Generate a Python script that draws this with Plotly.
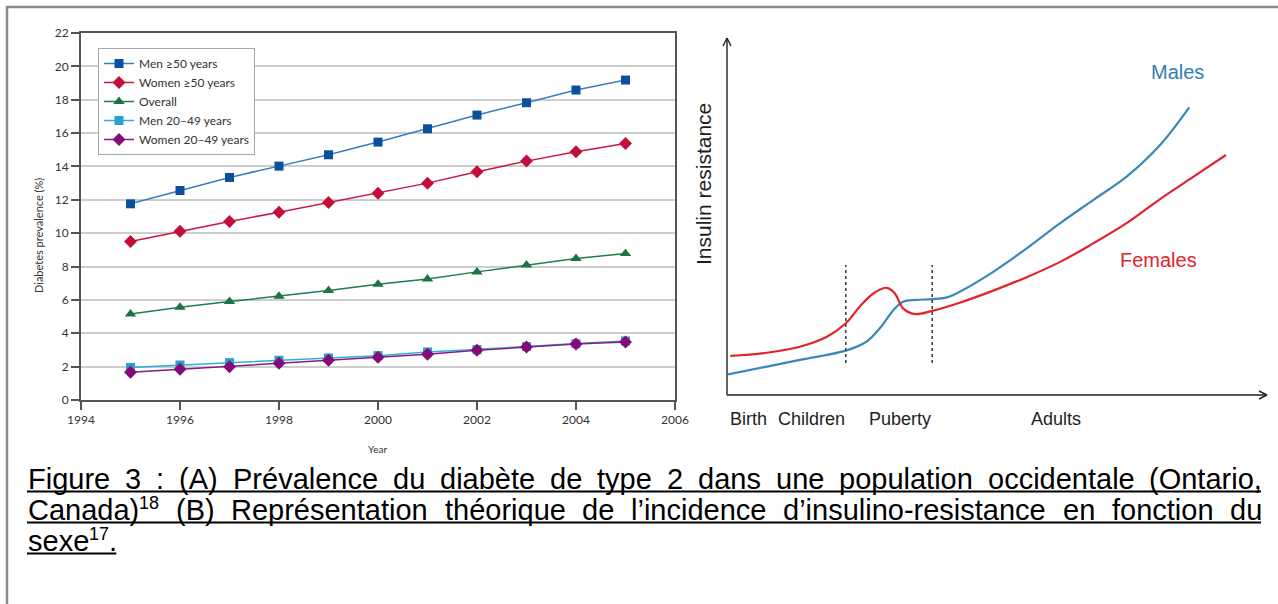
import plotly.graph_objects as go

W, H = 1278, 604


def px(x):
    return x / W


def py(y):
    return 1 - y / H


# ---------------- Panel A data ----------------
years = list(range(1995, 2006))
men_50 = [11.76, 12.56, 13.34, 14.02, 14.70, 15.46, 16.26, 17.08, 17.82, 18.58, 19.18]
women_50 = [9.50, 10.12, 10.70, 11.26, 11.84, 12.40, 13.00, 13.68, 14.32, 14.88, 15.38]
overall = [5.16, 5.56, 5.90, 6.22, 6.56, 6.94, 7.26, 7.68, 8.10, 8.48, 8.78]
men_20_49 = [1.95, 2.10, 2.24, 2.38, 2.52, 2.66, 2.88, 3.02, 3.20, 3.38, 3.54]
women_20_49 = [1.66, 1.84, 2.00, 2.20, 2.38, 2.56, 2.74, 2.98, 3.18, 3.36, 3.48]
x_ticks = [1994, 1996, 1998, 2000, 2002, 2004, 2006]
y_ticks = [0, 2, 4, 6, 8, 10, 12, 14, 16, 18, 20, 22]

# ---------------- Panel B data (schematic, arbitrary units 0-100) ----------------
male_x = [0.2, 7.4, 13.5, 22.0, 25.8, 28.3, 30.8, 32.6, 35.1, 38.0, 40.7, 43.1, 49.3, 55.5, 61.7, 67.8, 74.0, 80.2, 85.6]
male_y = [5.8, 8.0, 9.9, 12.5, 15.0, 18.8, 23.9, 26.3, 26.8, 27.0, 27.5, 29.1, 34.7, 41.3, 48.4, 54.9, 61.5, 70.4, 81.0]
female_x = [0.6, 7.4, 13.5, 18.5, 22.0, 24.6, 27.1, 29.6, 31.1, 32.6, 34.8, 38.0, 43.1, 49.3, 55.5, 61.7, 67.8, 74.0, 80.2, 86.4, 92.4]
female_y = [11.0, 11.9, 13.6, 16.4, 20.2, 24.9, 28.6, 30.2, 28.6, 24.4, 22.8, 23.7, 26.0, 29.4, 33.2, 37.5, 42.7, 48.4, 55.2, 61.5, 67.6]
stage_bounds = [22.0, 38.0]
stage_labels = ["Birth", "Children", "Puberty", "Adults"]

# ---------------- Caption text (word segments: text, superscript?) ----------------
caption_line1 = "Figure 3 : (A) Prévalence du diabète de type 2 dans une population occidentale (Ontario,".split(" ")
caption_line2 = [[("Canada)", False), ("18", True)]] + [[(w, False)] for w in
                 "(B) Représentation théorique de l\u2019incidence d\u2019insulino-resistance en fonction du".split(" ")]
caption_line3 = [[("sexe", False), ("17", True), (".", False)]]

fig = go.Figure()

seriesA = [
    ("Men \u226550 years", men_50, "#3a7cc0", "#0c4f9d", "square", 9),
    ("Women \u226550 years", women_50, "#c8173f", "#c20f3a", "diamond", 10),
    ("Overall", overall, "#1f7d4c", "#1a7444", "triangle-up", 10),
    ("Men 20\u201349 years", men_20_49, "#2fb0d8", "#2a9fcb", "square", 9),
    ("Women 20\u201349 years", women_20_49, "#8c1a86", "#850b78", "diamond", 10),
]
for name, vals, lc, mc, sym, ms in seriesA:
    fig.add_trace(go.Scatter(
        x=years, y=vals, name=name, mode="lines+markers",
        line=dict(color=lc, width=1.5),
        marker=dict(color=mc, symbol=sym, size=ms, line=dict(width=0)),
        xaxis="x", yaxis="y", showlegend=True,
    ))

fig.add_trace(go.Scatter(
    x=male_x, y=male_y, mode="lines", line=dict(color="#3a88ba", width=2.2, shape="spline", smoothing=1),
    xaxis="x2", yaxis="y2", showlegend=False, name="Males",
))
fig.add_trace(go.Scatter(
    x=female_x, y=female_y, mode="lines", line=dict(color="#e3232c", width=2.2, shape="spline", smoothing=1),
    xaxis="x2", yaxis="y2", showlegend=False, name="Females",
))

shapes = []
for b in stage_bounds:
    shapes.append(dict(type="line", xref="x2", yref="y2", x0=b, x1=b, y0=9.0, y1=36.6,
                       line=dict(color="#444444", width=1.6, dash="dot")))
ax_col = "#222222"
shapes.append(dict(type="line", xref="paper", yref="paper", x0=px(727), x1=px(727), y0=py(395), y1=py(38),
                   line=dict(color=ax_col, width=1.4)))
shapes.append(dict(type="line", xref="paper", yref="paper", x0=px(727), x1=px(1267), y0=py(395), y1=py(395),
                   line=dict(color=ax_col, width=1.4)))
for dx in (-4, 4):
    shapes.append(dict(type="line", xref="paper", yref="paper", x0=px(727), x1=px(727 + dx), y0=py(38), y1=py(46),
                       line=dict(color=ax_col, width=1.4)))
for dy in (-4, 4):
    shapes.append(dict(type="line", xref="paper", yref="paper", x0=px(1267), x1=px(1259), y0=py(395), y1=py(395 + dy),
                       line=dict(color=ax_col, width=1.4)))
# Outer frame
shapes.append(dict(type="line", xref="paper", yref="paper", x0=px(6), x1=px(1278), y0=py(7), y1=py(7),
                   line=dict(color="#8a8a8a", width=2.5)))
shapes.append(dict(type="line", xref="paper", yref="paper", x0=px(7), x1=px(7), y0=py(6), y1=py(604),
                   line=dict(color="#8a8a8a", width=2.5)))

annotations = []
lab_family = "Lato, Open Sans, sans-serif"


def ann(text, x, y, size, family, color, xanchor="center", yanchor="middle", angle=0):
    annotations.append(dict(text=text, x=px(x), y=py(y), xref="paper", yref="paper", showarrow=False,
                            xanchor=xanchor, yanchor=yanchor, textangle=angle, borderpad=0,
                            font=dict(size=size, family=family, color=color)))


ann("Diabetes prevalence (%)", 38, 236, 11, lab_family, "#333333", angle=-90)
ann("Year", 377, 449, 10, lab_family, "#333333")

arial = "Liberation Sans, Arial, sans-serif"
for txt, xc in zip(stage_labels, [748, 812, 900, 1056]):
    ann(txt, xc, 419, 18, arial, "#1e1e1e")
ann("Insulin resistance", 703, 184, 21, arial, "#1e1e1e", angle=-90)
ann("Males", 1177, 72, 20, arial, "#2f7db6")
ann("Females", 1158, 260, 20, arial, "#e3222b")

# ---- Caption: justified word placement using Arial-compatible metrics ----
AW = {' ': 278, '(': 333, ')': 333, ',': 278, '-': 333, '.': 278, ':': 278, 'A': 667, 'B': 667, 'C': 722,
      'F': 611, 'O': 778, 'P': 667, 'R': 722, 'a': 556, 'b': 556, 'c': 500, 'd': 556, 'e': 556, 'f': 278,
      'g': 556, 'h': 556, 'i': 222, 'l': 222, 'm': 833, 'n': 556, 'o': 556, 'p': 556, 'q': 556, 'r': 333,
      's': 500, 't': 278, 'u': 556, 'v': 500, 'x': 500, 'y': 500, '\u00e9': 556, '\u00e8': 556, '\u2019': 222}
CAP = 29.0
SUP = 18.0


def tw(s, size):
    return sum(AW.get(c, 556) for c in s) / 1000.0 * size


cap_family = "Liberation Sans, Arial, sans-serif"
x_left, x_right = 27.0, 1261.0
line_rows = [(479, [[(w, False)] for w in caption_line1], True),
             (510, caption_line2, True),
             (541, caption_line3, False)]
for yc, words, justify in line_rows:
    widths = [sum(tw(t, SUP if sup else CAP) for t, sup in wd) for wd in words]
    if justify and len(words) > 1:
        gap = (x_right - x_left - sum(widths)) / (len(words) - 1)
    else:
        gap = tw(" ", CAP)
    x = x_left
    for wd, wdt in zip(words, widths):
        for t, sup in wd:
            if sup:
                ann(t, x, yc - 7, SUP, cap_family, "#000000", xanchor="left")
                x += tw(t, SUP)
            else:
                ann(t, x, yc, CAP, cap_family, "#000000", xanchor="left")
                x += tw(t, CAP)
        x += gap
    end = x - gap
    shapes.append(dict(type="line", xref="paper", yref="paper", x0=px(x_left), x1=px(end),
                       y0=py(yc + 12.5), y1=py(yc + 12.5), line=dict(color="#000000", width=2)))

fig.update_layout(
    width=W, height=H,
    margin=dict(l=0, r=0, t=0, b=0, pad=0, autoexpand=False),
    paper_bgcolor="white", plot_bgcolor="white",
    showlegend=True,
    legend=dict(x=px(98), y=py(48), xanchor="left", yanchor="top", bgcolor="white",
                bordercolor="#a8a8a8", borderwidth=1, font=dict(size=12, family=lab_family, color="#333333"),
                itemwidth=30, tracegroupgap=0),
    xaxis=dict(domain=[px(81), px(675)], range=[1994, 2006], tickvals=x_ticks, ticks="outside", ticklen=8,
               tickcolor="#555555", tickwidth=1.5, showline=True, linecolor="#555555", linewidth=1.8, mirror=True,
               showgrid=False, zeroline=False, automargin=False,
               tickfont=dict(size=12, family=lab_family, color="#333333"), anchor="y"),
    yaxis=dict(domain=[py(400), py(33)], range=[0, 22], tickvals=y_ticks, ticks="outside", ticklen=8,
               tickcolor="#555555", tickwidth=1.5, showline=True, linecolor="#555555", linewidth=1.8, mirror=True,
               showgrid=True, gridcolor="#cdcdcd", gridwidth=1.5, zeroline=False, automargin=False,
               tickfont=dict(size=12, family=lab_family, color="#333333"), anchor="x"),
    xaxis2=dict(domain=[px(727), px(1267)], range=[0, 100], visible=False, anchor="y2", automargin=False),
    yaxis2=dict(domain=[py(395), py(40)], range=[0, 100], visible=False, anchor="x2", automargin=False),
    shapes=shapes,
    annotations=annotations,
)

fig.write_html("out.html", config={"displayModeBar": False},
               post_script="document.body.style.margin='0';")
